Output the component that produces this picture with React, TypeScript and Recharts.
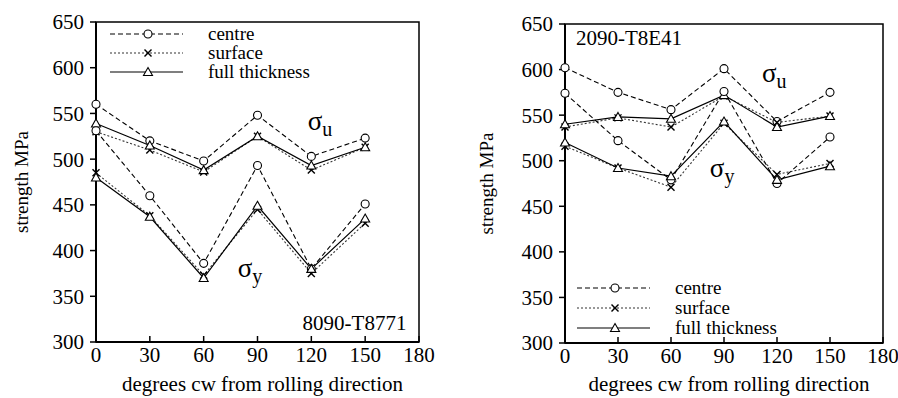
import {
  Label, Legend, Line, LineChart, ReferenceArea, ReferenceDot, XAxis, YAxis,
} from 'recharts'

const FONT = "'Liberation Serif', 'DejaVu Serif', serif"
const INK = '#000'

const ANGLES = [0, 30, 60, 90, 120, 150]
const X_TICKS = [0, 30, 60, 90, 120, 150, 180]
const Y_TICKS = [300, 350, 400, 450, 500, 550, 600, 650]

// 8090-T8771
const L_CENTRE_U = [560, 520, 498, 548, 503, 523]
const L_SURFACE_U = [530, 510, 486, 525, 488, 513]
const L_FULL_U = [539, 515, 488, 525, 493, 513]
const L_CENTRE_Y = [531, 460, 386, 493, 380, 451]
const L_SURFACE_Y = [485, 438, 373, 445, 375, 430]
const L_FULL_Y = [480, 437, 370, 449, 380, 435]

// 2090-T8E41
const R_CENTRE_U = [602, 575, 556, 601, 543, 575]
const R_SURFACE_U = [537, 547, 537, 571, 542, 549]
const R_FULL_U = [540, 548, 546, 572, 537, 549]
const R_CENTRE_Y = [574, 522, 479, 576, 475, 526]
const R_SURFACE_Y = [516, 492, 471, 541, 485, 497]
const R_FULL_Y = [520, 492, 483, 543, 479, 494]

const SERIES = [
  { name: 'centre', dash: '5 3', marker: 'circle', color: INK },
  { name: 'surface', dash: '2 2', marker: 'cross', color: '#333' },
  { name: 'full thickness', dash: undefined, marker: 'triangle', color: INK },
]

function buildRows(cu: number[], su: number[], fu: number[], cy: number[], sy: number[], fy: number[]) {
  return ANGLES.map((a, i) => ({ angle: a, cu: cu[i], su: su[i], fu: fu[i], cy: cy[i], sy: sy[i], fy: fy[i] }))
}

const leftRows = buildRows(L_CENTRE_U, L_SURFACE_U, L_FULL_U, L_CENTRE_Y, L_SURFACE_Y, L_FULL_Y)
const rightRows = buildRows(R_CENTRE_U, R_SURFACE_U, R_FULL_U, R_CENTRE_Y, R_SURFACE_Y, R_FULL_Y)

const txt = { fontFamily: FONT }

function Marker({ kind, cx, cy }: { kind: string; cx: number; cy: number }) {
  if (kind === 'circle') {
    return <circle cx={cx} cy={cy} r={4} fill="#fff" stroke={INK} strokeWidth={1.1} />
  }
  if (kind === 'cross') {
    return (
      <g stroke={INK} strokeWidth={1.4}>
        <line x1={cx - 3.5} y1={cy - 3.5} x2={cx + 3.5} y2={cy + 3.5} />
        <line x1={cx - 3.5} y1={cy + 3.5} x2={cx + 3.5} y2={cy - 3.5} />
      </g>
    )
  }
  return (
    <path
      d={`M${cx},${cy - 4.5} L${cx + 4.5},${cy + 3.5} L${cx - 4.5},${cy + 3.5} Z`}
      fill="#fff" stroke={INK} strokeWidth={1.1}
    />
  )
}

const dotFor = (kind: string) => (p: any) =>
  <Marker key={`${kind}-${p.index}`} kind={kind} cx={p.cx} cy={p.cy} />

function XTick({ x, y, payload }: any) {
  return (
    <g>
      <line x1={x} x2={x} y1={y} y2={y - 6} stroke={INK} strokeWidth={1.5} />
      <text x={x} y={y + 20} textAnchor="middle" fontSize={21} fill={INK} style={txt}>{payload.value}</text>
    </g>
  )
}

function LegendBox({ rowGap }: { rowGap: number }) {
  return (
    <svg width={230} height={70} style={{ overflow: 'visible' }}>
      {SERIES.map((s, i) => {
        const y = 8 + i * rowGap
        return (
          <g key={s.name}>
            <line x1={0} x2={73} y1={y} y2={y} stroke={s.color} strokeWidth={1.1} strokeDasharray={s.dash} />
            <Marker kind={s.marker} cx={38} cy={y} />
            <text x={98} y={y + 6} fontSize={19} fill={INK} style={txt}>{s.name}</text>
          </g>
        )
      })}
    </svg>
  )
}

function Sigma({ cx, cy, sub }: { cx: number; cy: number; sub: string }) {
  return (
    <text x={cx} y={cy} fill={INK} style={txt}>
      <tspan fontSize={27}>σ</tspan>
      <tspan fontSize={20} dy={6}>{sub}</tspan>
    </text>
  )
}

function Panel(props: {
  rows: any[]; width: number; yAxisWidth: number; marginTop: number; marginRight: number; xAxisHeight: number
  yLabelX: number; xLabelDx: number; legendLeft: number; legendTop: number; legendGap: number
  sigmaU: [number, number]; sigmaY: [number, number]; title: string; titleAt: [number, number]; titleAnchor: 'start' | 'end'
}) {
  const { rows } = props
  return (
    <LineChart
      width={props.width}
      height={398}
      data={rows}
      style={txt}
      margin={{ top: props.marginTop, right: props.marginRight, bottom: 0, left: 0 }}
    >
      <XAxis
        dataKey="angle" type="number" domain={[0, 180]} ticks={X_TICKS} interval={0}
        height={props.xAxisHeight} tickLine={false} tickSize={0} tickMargin={0}
        axisLine={{ stroke: INK, strokeWidth: 2 }} tick={<XTick />}
      >
        <Label
          content={({ viewBox }: any) => (
            <text
              x={viewBox.x + viewBox.width / 2 + props.xLabelDx} y={viewBox.y + viewBox.height - 7}
              textAnchor="middle" fontSize={21} fill={INK} style={txt}
            >
              degrees cw from rolling direction
            </text>
          )}
        />
      </XAxis>
      <YAxis
        type="number" domain={[300, 650]} ticks={Y_TICKS} interval={0} width={props.yAxisWidth}
        tickSize={6} tickMargin={6}
        axisLine={{ stroke: INK, strokeWidth: 2 }} tickLine={{ stroke: INK, strokeWidth: 1.5 }}
        tick={{ fill: INK, fontSize: 21, style: txt }}
      >
        <Label
          content={({ viewBox }: any) => {
            const x = props.yLabelX
            const y = viewBox.y + viewBox.height / 2
            return (
              <text
                x={x} y={y} transform={`rotate(-90, ${x}, ${y})`} textAnchor="middle"
                dominantBaseline="central" fontSize={19} fill={INK} style={txt}
              >
                strength  MPa
              </text>
            )
          }}
        />
      </YAxis>
      <ReferenceArea x1={0} x2={180} y1={300} y2={650} fill="none" stroke={INK} strokeWidth={1.5} />
      <Legend
        layout="vertical" align="center" verticalAlign="middle"
        wrapperStyle={{ left: props.legendLeft, top: props.legendTop, width: 230, height: 70 }}
        content={() => <LegendBox rowGap={props.legendGap} />}
      />
      <Line dataKey="cu" stroke={INK} strokeWidth={1.1} strokeDasharray="5 3" dot={dotFor('circle')} isAnimationActive={false} />
      <Line dataKey="su" stroke="#333" strokeWidth={1.1} strokeDasharray="2 2" dot={dotFor('cross')} isAnimationActive={false} />
      <Line dataKey="fu" stroke={INK} strokeWidth={1.2} dot={dotFor('triangle')} isAnimationActive={false} />
      <Line dataKey="cy" stroke={INK} strokeWidth={1.1} strokeDasharray="5 3" dot={dotFor('circle')} isAnimationActive={false} />
      <Line dataKey="sy" stroke="#333" strokeWidth={1.1} strokeDasharray="2 2" dot={dotFor('cross')} isAnimationActive={false} />
      <Line dataKey="fy" stroke={INK} strokeWidth={1.2} dot={dotFor('triangle')} isAnimationActive={false} />
      <ReferenceDot
        x={props.sigmaU[0]} y={props.sigmaU[1]} r={0}
        shape={(p: any) => <Sigma cx={p.cx} cy={p.cy} sub="u" />}
      />
      <ReferenceDot
        x={props.sigmaY[0]} y={props.sigmaY[1]} r={0}
        shape={(p: any) => <Sigma cx={p.cx} cy={p.cy} sub="y" />}
      />
      <ReferenceDot
        x={props.titleAt[0]} y={props.titleAt[1]} r={0}
        shape={(p: any) => (
          <text x={p.cx} y={p.cy} textAnchor={props.titleAnchor} fontSize={21} fill={INK} style={txt}>
            {props.title}
          </text>
        )}
      />
    </LineChart>
  )
}

export default function App() {
  return (
    <div style={{ position: 'absolute', left: 0, top: 0, width: 898, height: 398, background: '#fff', fontFamily: FONT }}>
      <div style={{ position: 'absolute', left: 0, top: 0 }}>
        <Panel
          rows={leftRows} width={450} yAxisWidth={96} marginTop={22} marginRight={31} xAxisHeight={56}
          yLabelX={21} xLabelDx={5} legendLeft={110} legendTop={26} legendGap={19}
          sigmaU={[118, 532]} sigmaY={[79, 371]}
          title="8090-T8771" titleAt={[173, 313]} titleAnchor="end"
        />
      </div>
      <div style={{ position: 'absolute', left: 450, top: 0 }}>
        <Panel
          rows={rightRows} width={448} yAxisWidth={115} marginTop={24} marginRight={15} xAxisHeight={55}
          yLabelX={36} xLabelDx={5} legendLeft={127} legendTop={280} legendGap={20}
          sigmaU={[111.5, 586]} sigmaY={[82, 482]}
          title="2090-T8E41" titleAt={[6.2, 627]} titleAnchor="start"
        />
      </div>
    </div>
  )
}
